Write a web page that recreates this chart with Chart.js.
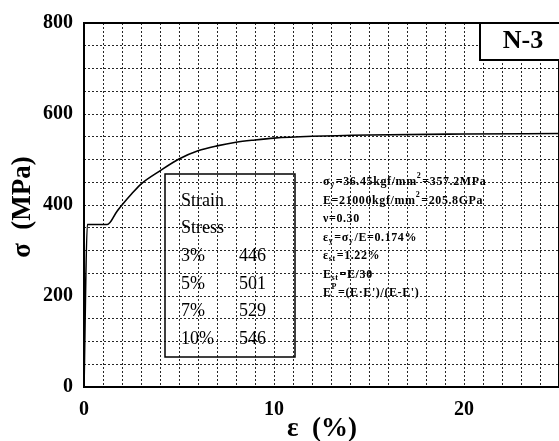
<!DOCTYPE html>
<html>
<head>
<meta charset="utf-8">
<script src="https://cdn.jsdelivr.net/npm/chart.js@4"></script>
<style>
  html, body { margin: 0; padding: 0; background: #fff; overflow: hidden; }
  #wrap { width: 570px; height: 441px; }
</style>
</head>
<body>
<div id="wrap"><canvas id="chart" width="570" height="441"></canvas></div>
<script>
// strain (%) and stress (MPa)
const strainPct = [0, 0.174, 1.22, 1.75, 2, 2.5, 3, 4, 5, 6, 7, 8, 9, 10, 12, 15, 20, 25];
const stressMPa = [0, 357, 357, 387, 400, 424, 446, 475, 501, 519, 530, 538, 543, 547, 551, 554, 556, 557];

const xTickLabels = [0, 10, 20];
const yTickLabels = [0, 200, 400, 600, 800];

const tableHeader = ['Strain', 'Stress'];
const tableStrain = ['3%', '5%', '7%', '10%'];
const tableStress = ['446', '501', '529', '546'];

const noteLines = [
  [['σ'], ['y', 'sub'], ['=36.45kgf/mm'], ['2', 'sup'], ['=357.2MPa']],
  [['E=21000kgf/mm'], ['2', 'sup'], ['=205.8GPa']],
  [['ν=0.30']],
  [['ε'], ['y', 'sub'], ['=σ'], ['y', 'sub'], ['/E=0.174%']],
  [['ε'], ['st', 'sub'], ['=1.22%']],
  [['E'], ['st', 'sub'], ['=E/30']],
  [['E'], ['P', 'sup'], ["=(E·E')/(E-E')"]]
];

const SERIF = '"Liberation Serif", "DejaVu Serif", serif';

const overlay = {
  id: 'overlay',
  afterDraw(chart) {
    const ctx = chart.ctx;
    const a = chart.chartArea;
    ctx.save();

    // frame
    ctx.strokeStyle = '#000';
    ctx.lineWidth = 2;
    ctx.strokeRect(a.left, a.top, a.right - a.left, a.bottom - a.top);

    // sample label box
    ctx.fillStyle = '#fff';
    ctx.fillRect(480, a.top, 120, 37);
    ctx.strokeRect(480, a.top, 120, 37);
    ctx.fillStyle = '#000';
    ctx.font = 'bold 26px ' + SERIF;
    ctx.textAlign = 'center';
    ctx.textBaseline = 'middle';
    ctx.fillText('N-3', 523, 41);

    // table
    ctx.lineWidth = 1.5;
    ctx.strokeRect(165, 174, 130, 183);
    ctx.font = '18px ' + SERIF;
    ctx.textAlign = 'left';
    ctx.fillText(tableHeader[0], 181, 201);
    ctx.fillText(tableHeader[1], 181, 228);
    const rowY = [256, 284, 311, 339];
    tableStrain.forEach((s, i) => {
      ctx.fillText(s, 181, rowY[i]);
      ctx.fillText(tableStress[i], 239, rowY[i]);
    });

    // material notes
    ctx.letterSpacing = '0.6px';
    noteLines.forEach((line, i) => {
      let x = 323;
      const y = 182 + i * 18.5;
      line.forEach(([t, kind]) => {
        if (kind === 'sub') {
          ctx.font = 'bold 8px ' + SERIF;
          ctx.fillText(t, x, y + 3);
        } else if (kind === 'sup') {
          ctx.font = 'bold 8px ' + SERIF;
          ctx.fillText(t, x, y - 6);
        } else {
          ctx.font = 'bold 12px ' + SERIF;
          ctx.fillText(t, x, y);
        }
        x += ctx.measureText(t).width + (kind ? 1 : 0);
      });
    });
    ctx.letterSpacing = '0px';

    // axis titles
    ctx.font = 'bold 27px ' + SERIF;
    ctx.textAlign = 'center';
    ctx.fillText('ε  (%)', 322, 429);
    ctx.translate(23, 207);
    ctx.rotate(-Math.PI / 2);
    ctx.fillText('σ  (MPa)', 0, 0);
    ctx.restore();
  }
};

new Chart(document.getElementById('chart'), {
  type: 'line',
  data: {
    datasets: [{
      data: strainPct.map((x, i) => ({ x: x, y: stressMPa[i] })),
      borderColor: '#000',
      borderWidth: 1.6,
      pointRadius: 0,
      cubicInterpolationMode: 'monotone',
      fill: false
    }]
  },
  options: {
    responsive: false,
    animation: false,
    layout: { padding: { top: 21, left: 0, right: 6, bottom: 0 } },
    plugins: { legend: { display: false }, tooltip: { enabled: false } },
    scales: {
      x: {
        type: 'linear',
        min: 0,
        max: 25,
        afterFit(s) { s.height = 54; },
        border: { display: false, dash: [2, 2] },
        grid: { color: 'rgba(0,0,0,0.85)', lineWidth: 1, drawTicks: false },
        ticks: {
          stepSize: 1,
          autoSkip: false,
          maxRotation: 0,
          padding: 11,
          color: '#000',
          font: { family: SERIF, size: 20, weight: 'bold' },
          callback: v => xTickLabels.includes(v) ? String(v) : ''
        }
      },
      y: {
        min: 0,
        max: 800,
        afterFit(s) { s.width = 84; },
        border: { display: false, dash: [2, 2] },
        grid: { color: 'rgba(0,0,0,0.85)', lineWidth: 1, drawTicks: false },
        ticks: {
          stepSize: 50,
          autoSkip: false,
          padding: 11,
          color: '#000',
          font: { family: SERIF, size: 20, weight: 'bold' },
          callback: v => yTickLabels.includes(v) ? String(v) : ''
        }
      }
    }
  },
  plugins: [overlay]
});
</script>
</body>
</html>
